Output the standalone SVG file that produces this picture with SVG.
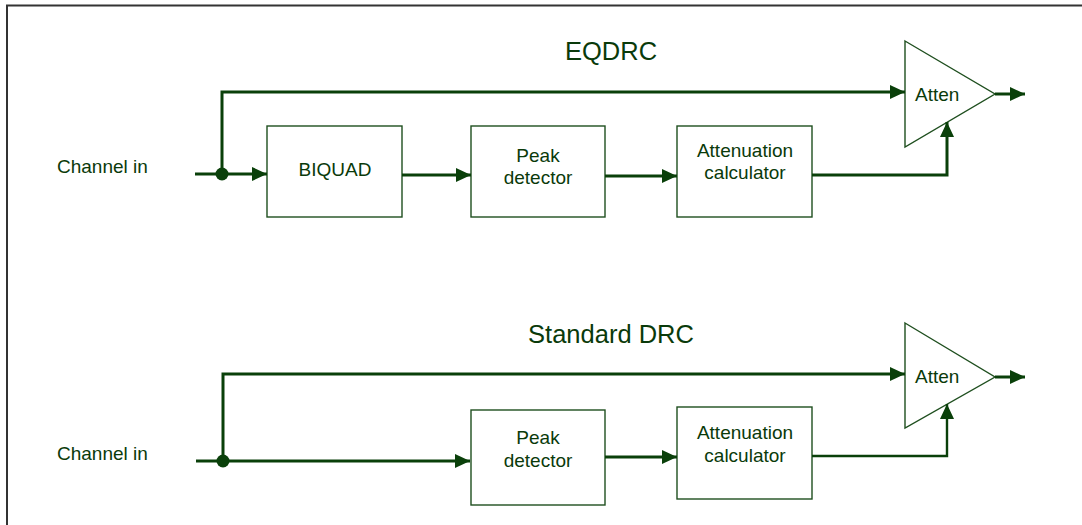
<svg xmlns="http://www.w3.org/2000/svg" width="1082" height="525" viewBox="0 0 1082 525">
<style>
.t{font-family:"Liberation Sans",Arial,sans-serif;font-size:19px;fill:#0a3a0a}
.ttl{font-family:"Liberation Sans",Arial,sans-serif;font-size:25.5px;fill:#0a3a0a;text-anchor:middle}
.c{text-anchor:middle}
.box{fill:#fff;stroke:#1f4f1f;stroke-width:1.4}
.w{fill:none;stroke:#0a400a;stroke-width:3}
.w2{fill:none;stroke:#0a400a;stroke-width:2.4}
</style>
<defs>
<marker id="ah" markerWidth="15" markerHeight="14" refX="15" refY="7" orient="auto" markerUnits="userSpaceOnUse">
<path d="M0,0 L15,7 L0,14 Z" fill="#0a400a"/>
</marker>
</defs>
<rect width="1082" height="525" fill="#fff"/>
<path d="M7,525 V5.5 H1082" fill="none" stroke="#333" stroke-width="2"/>

<text class="ttl" x="611" y="60">EQDRC</text>
<text class="ttl" x="611" y="343">Standard DRC</text>

<g id="in1"><text class="t" x="57" y="173">Channel in</text></g>
<g id="in2"><text class="t" x="57" y="460">Channel in</text></g>

<g id="biquad"><rect class="box" x="267" y="126" width="135" height="91"/><text class="t c" x="335" y="176">BIQUAD</text></g>
<g id="peak1"><rect class="box" x="471" y="126" width="134" height="91"/><text class="t c" x="538" y="162">Peak</text><text class="t c" x="538" y="184">detector</text></g>
<g id="calc1"><rect class="box" x="677" y="126" width="135" height="91"/><text class="t c" x="745" y="157">Attenuation</text><text class="t c" x="745" y="179">calculator</text></g>
<g id="atten1"><path class="box" d="M905,41 L995,94 L905,147 Z"/><text class="t" x="915" y="101">Atten</text></g>

<g id="peak2"><rect class="box" x="471" y="410" width="134" height="95"/><text class="t c" x="538" y="444">Peak</text><text class="t c" x="538" y="467">detector</text></g>
<g id="calc2"><rect class="box" x="677" y="407" width="135" height="92"/><text class="t c" x="745" y="439">Attenuation</text><text class="t c" x="745" y="462">calculator</text></g>
<g id="atten2"><path class="box" d="M905,323 L995,377 L905,428 Z"/><text class="t" x="915" y="383">Atten</text></g>

<g id="connectors">
<path class="w" d="M195,174 H267" marker-end="url(#ah)"/>
<circle cx="222" cy="174" r="6.5" fill="#0a400a"/>
<path class="w" d="M222,174 V92 H905" marker-end="url(#ah)"/>
<path class="w" d="M402,175 H471" marker-end="url(#ah)"/>
<path class="w" d="M605,176 H677" marker-end="url(#ah)"/>
<path class="w" d="M812,175 H947 V122" marker-end="url(#ah)"/>
<path class="w" d="M995,94 H1025" marker-end="url(#ah)"/>

<path class="w" d="M196,461 H470" marker-end="url(#ah)"/>
<circle cx="223" cy="461" r="6.5" fill="#0a400a"/>
<path class="w" d="M223,461 V374 H905" marker-end="url(#ah)"/>
<path class="w" d="M605,457 H677" marker-end="url(#ah)"/>
<path class="w2" d="M812,456 H947 V404" marker-end="url(#ah)"/>
<path class="w" d="M995,377 H1025" marker-end="url(#ah)"/>
</g>
</svg>
